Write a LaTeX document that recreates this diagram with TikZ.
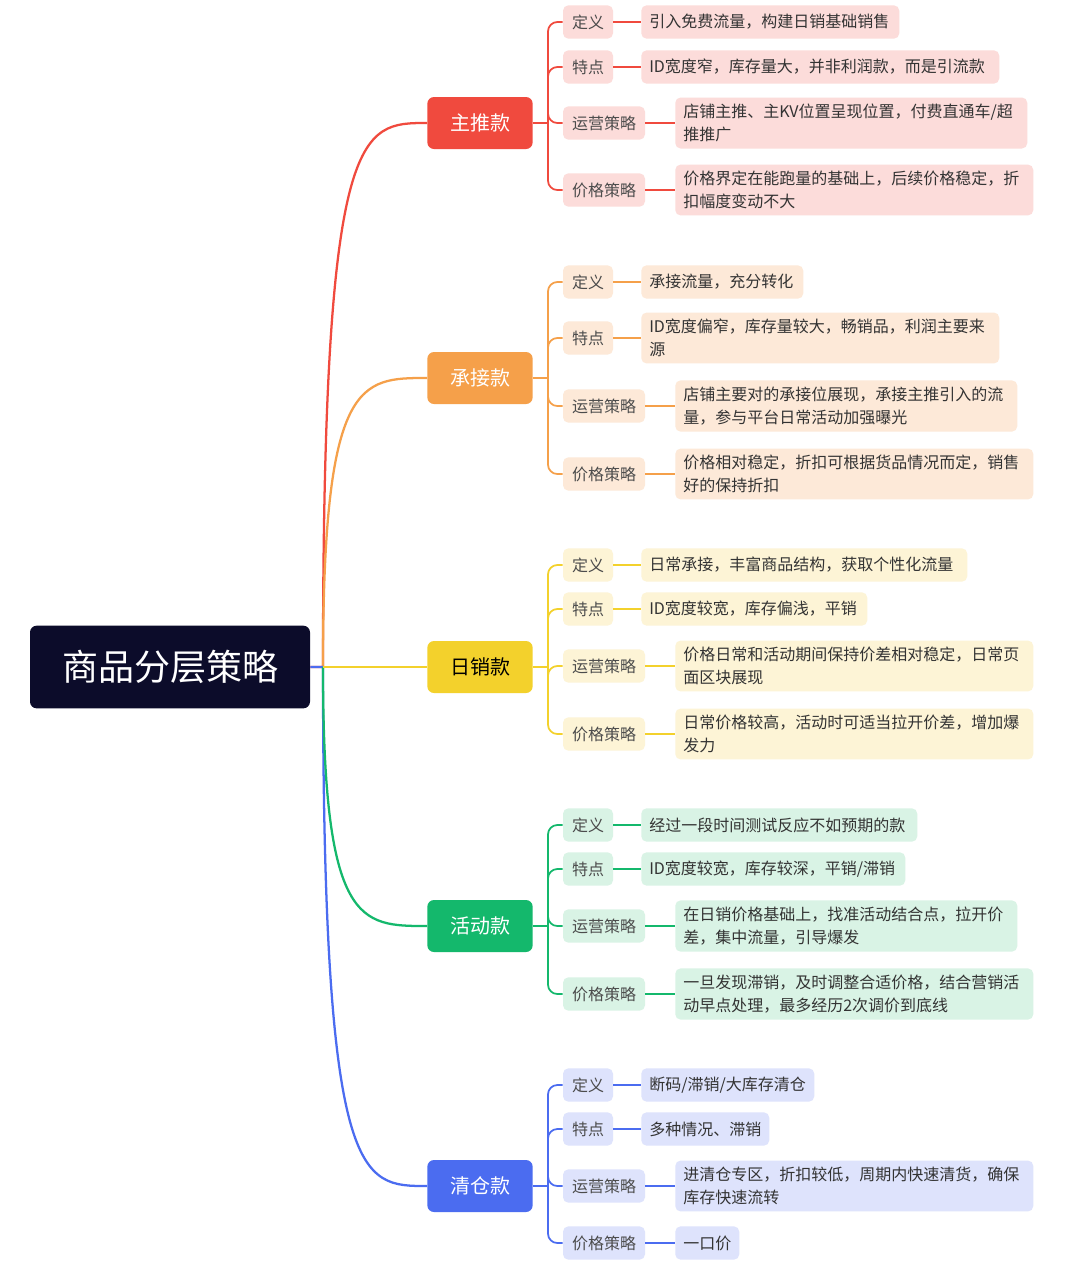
\documentclass[tikz,border=0pt]{standalone}
\usepackage{fontspec}
\setmainfont{Noto Sans CJK SC}
\definecolor{colr}{HTML}{F04A3E} \definecolor{bgr}{HTML}{FCDCDA}
\definecolor{colo}{HTML}{F5A04A} \definecolor{bgo}{HTML}{FDE9D8}
\definecolor{coly}{HTML}{F3D12C} \definecolor{bgy}{HTML}{FDF4D6}
\definecolor{colg}{HTML}{14B86C} \definecolor{bgg}{HTML}{D9F3E5}
\definecolor{colb}{HTML}{4B6CF0} \definecolor{bgb}{HTML}{DEE3FC}
\definecolor{rootbg}{HTML}{0C0C2A}
\tikzset{
  rootbox/.style={fill=rootbg, text=white, rounded corners=5pt, font=\fontsize{27}{30}\selectfont,
    minimum width=210pt, minimum height=62pt},
  brbox/.style={fill=col#1, rounded corners=5pt, font=\fontsize{15}{18}\selectfont,
    minimum width=79pt, minimum height=39pt, text=white},
  lab/.style={fill=bg#1, rounded corners=4pt, text=black!70, font=\fontsize{12}{14}\selectfont,
    minimum height=25pt, inner sep=0pt},
  txt/.style={fill=bg#1, rounded corners=4pt, text=black!80, font=\fontsize{12}{17}\selectfont,
    anchor=west, align=left, inner xsep=6pt, inner ysep=5pt},
  trunk/.style={draw=col#1, line width=1.7pt},
  twig/.style={draw=col#1, line width=1.3pt, rounded corners=7pt},
}
% #1 name, #2 colour, #3 branch y, #4 label y, #5 label, #6 label right x, #7 text left x, #8 text right x, #9 text
\newcommand{\leaf}[9]{%
  \pgfmathsetlengthmacro\labw{(#6-563)*0.75pt}%
  \pgfmathsetlengthmacro\txtw{(#8-#7-17)*0.75pt}%
  \node[lab=#2, minimum width=\labw] (#1l) at ({(563+#6)/2},#4) {#5};
  \node[txt=#2, text width=\txtw, minimum height=25pt] (#1t) at (#7,#4) {#9};
  \path[twig=#2] (548,#3) |- (#1l.west);
  \path[twig=#2] (#1l.east) -- (#1t.west);
}
\begin{document}
\begin{tikzpicture}[x=0.75pt,y=-0.75pt]
\useasboundingbox[fill=white] (0,0) rectangle (1080,1268);
\node[rootbox] (root) at (170,667) {商品分层策略};

\node[brbox=r] (zt) at (480,123) {主推款};
\node[brbox=o] (cj) at (480,378) {承接款};
\node[brbox=y, text=black] (rx) at (480,667) {日销款};
\node[brbox=g] (hd) at (480,926) {活动款};
\node[brbox=b] (qc) at (480,1186) {清仓款};

% trunks
\path[trunk=r] (root.east) -- (323,667) .. controls (323,123) and (360,123) .. (zt.west);
\path[trunk=o] (323,667) .. controls (323,378) and (360,378) .. (cj.west);
\path[trunk=b] (root.east) -- (323,667) .. controls (323,1186) and (360,1186) .. (qc.west);
\path[trunk=g] (323,667) .. controls (323,926) and (360,926) .. (hd.west);
\path[trunk=y] (323,667) -- (rx.west);
\foreach \b/\c/\y in {zt/r/123,cj/o/378,rx/y/667,hd/g/926,qc/b/1186}
  \path[draw=col\c, line width=1.3pt] (\b.east) -- (548,\y);

% 主推款
\leaf{zta}{r}{123}{22}{定义}{613}{641}{900}{引入免费流量，构建日销基础销售}
\leaf{ztb}{r}{123}{67}{特点}{613}{641}{1000}{ID宽度窄，库存量大，并非利润款，而是引流款}
\leaf{ztc}{r}{123}{123}{运营策略}{645}{675}{1028}{店铺主推、主KV位置呈现位置，付费直通车/超\\推推广}
\leaf{ztd}{r}{123}{190}{价格策略}{645}{675}{1034}{价格界定在能跑量的基础上，后续价格稳定，折\\扣幅度变动不大}
% 承接款
\leaf{cja}{o}{378}{282}{定义}{613}{641}{804}{承接流量，充分转化}
\leaf{cjb}{o}{378}{338}{特点}{613}{641}{1000}{ID宽度偏窄，库存量较大，畅销品，利润主要来\\源}
\leaf{cjc}{o}{378}{406}{运营策略}{645}{675}{1018}{店铺主要对的承接位展现，承接主推引入的流\\量，参与平台日常活动加强曝光}
\leaf{cjd}{o}{378}{474}{价格策略}{645}{675}{1034}{价格相对稳定，折扣可根据货品情况而定，销售\\好的保持折扣}
% 日销款
\leaf{rxa}{y}{667}{565}{定义}{613}{641}{968}{日常承接，丰富商品结构，获取个性化流量}
\leaf{rxb}{y}{667}{609}{特点}{613}{641}{868}{ID宽度较宽，库存偏浅，平销}
\leaf{rxc}{y}{667}{666}{运营策略}{645}{675}{1034}{价格日常和活动期间保持价差相对稳定，日常页\\面区块展现}
\leaf{rxd}{y}{667}{734}{价格策略}{645}{675}{1034}{日常价格较高，活动时可适当拉开价差，增加爆\\发力}
% 活动款
\leaf{hda}{g}{926}{825}{定义}{613}{641}{918}{经过一段时间测试反应不如预期的款}
\leaf{hdb}{g}{926}{869}{特点}{613}{641}{906}{ID宽度较宽，库存较深，平销/滞销}
\leaf{hdc}{g}{926}{926}{运营策略}{645}{675}{1018}{在日销价格基础上，找准活动结合点，拉开价\\差，集中流量，引导爆发}
\leaf{hdd}{g}{926}{994}{价格策略}{645}{675}{1034}{一旦发现滞销，及时调整合适价格，结合营销活\\动早点处理，最多经历2次调价到底线}
% 清仓款
\leaf{qca}{b}{1186}{1085}{定义}{613}{641}{815}{断码/滞销/大库存清仓}
\leaf{qcb}{b}{1186}{1129}{特点}{613}{641}{770}{多种情况、滞销}
\leaf{qcc}{b}{1186}{1186}{运营策略}{645}{675}{1034}{进清仓专区，折扣较低，周期内快速清货，确保\\库存快速流转}
\leaf{qcd}{b}{1186}{1243}{价格策略}{645}{675}{740}{一口价}
\end{tikzpicture}
\end{document}
